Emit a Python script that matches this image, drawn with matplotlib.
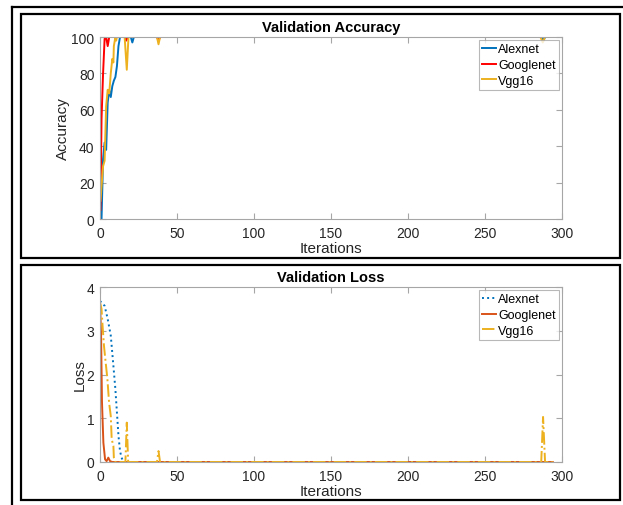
import numpy as np
import matplotlib
matplotlib.use("Agg")
import matplotlib.pyplot as plt
from matplotlib.patches import Rectangle
from matplotlib.lines import Line2D

plt.rcParams['font.family'] = ['Liberation Sans', 'DejaVu Sans']

# accuracy data (iteration, percent)
acc_alex_it = [1, 2, 3, 4, 5, 6, 7, 8, 9, 10, 11, 12, 13, 14, 15, 19, 20, 21, 22, 286, 287, 288, 289, 294]
acc_alex = [0, 33, 42, 38, 64, 71, 67, 73, 76, 78, 84, 95, 100, 100, 100, 100, 100, 97, 100, 100, 100, 98, 100, 100]
acc_goog_it = [0.3, 1, 2, 3, 4, 5, 6, 7, 16, 17, 18, 37, 38, 39, 294]
acc_goog = [5, 55, 80, 99, 100, 95, 100, 100, 100, 98, 100, 100, 98, 100, 100]
acc_vgg_it = [0.3, 2, 3, 4, 5, 6, 7, 8, 8.7, 9, 10, 10.5, 11, 16, 17.4, 18.5, 37, 38, 39, 286, 287.5, 289, 294]
acc_vgg = [10, 29, 32, 62, 71, 69, 80, 88, 86, 95, 100, 98, 100, 100, 82, 100, 100, 96, 100, 100, 97, 100, 100]

# loss data
loss_alex_it = [0, 3, 5, 7, 8.7, 10, 11, 12, 13, 14, 15, 16, 294]
loss_alex = [3.68, 3.57, 3.27, 2.89, 2.2, 1.66, 1.13, 0.6, 0.25, 0.1, 0.02, 0.0, 0.0]
loss_goog_it = [0, 0.7, 1.3, 2.2, 3.3, 4.3, 5.4, 6.5, 8, 294]
loss_goog = [3.68, 2.9, 1.36, 0.44, 0.06, 0.02, 0.1, 0.02, 0.0, 0.0]
loss_vgg_it = [0, 1, 1.7, 2.6, 3.7, 4.8, 5.9, 7, 7.6, 8.7, 9, 10, 16.5, 17.4, 18.3, 37, 38, 39, 286.5, 287.7, 289, 294]
loss_vgg = [3.65, 3.5, 3.1, 2.65, 2.27, 1.9, 1.36, 1.05, 0.52, 0.37, 0.1, 0.0, 0.0, 0.9, 0.0, 0.0, 0.25, 0.0, 0.0, 1.03, 0.0, 0.0]

names = ['Alexnet', 'Googlenet', 'Vgg16']
blue = '#0072BD'
orange = '#D95319'
yellow = '#EDB120'

fig = plt.figure(figsize=(6.23, 5.06), dpi=100)

# outer frame and panel boxes
fig.add_artist(Line2D([0.0193, 0.0193], [0, 0.9842], color='black', lw=1.6, transform=fig.transFigure))
fig.add_artist(Line2D([0.0193, 1.0], [0.9842, 0.9842], color='black', lw=1.6, transform=fig.transFigure))
fig.add_artist(Rectangle((0.0337, 0.4881), 0.9615, 0.4822, fill=False, ec='black', lw=1.6, transform=fig.transFigure))
fig.add_artist(Rectangle((0.0337, 0.0099), 0.9615, 0.4644, fill=False, ec='black', lw=1.6, transform=fig.transFigure))


def style(ax):
    ax.set_xlim(0, 300)
    ax.set_xticks(np.arange(0, 301, 50))
    for s in ax.spines.values():
        s.set_color('#a6a6a6')
        s.set_linewidth(0.8)
    ax.tick_params(direction='in', top=True, right=True, length=4, width=0.8,
                   color='#a6a6a6', labelcolor='#262626', labelsize=10)
    ax.tick_params(axis='x', pad=5)
    ax.tick_params(axis='y', pad=4)
    ax.set_xlabel('Iterations', fontsize=11, color='#262626', labelpad=1)


def legend(ax):
    leg = ax.legend(loc='upper right', fontsize=9, handlelength=1.15, handletextpad=0.15,
                    borderpad=0.25, labelspacing=0.3, fancybox=False, edgecolor='#a6a6a6',
                    borderaxespad=0.25)
    leg.get_frame().set_linewidth(0.8)


ax1 = fig.add_axes([0.1605, 0.5652, 0.7416, 0.3597])
ax1.plot(acc_alex_it, acc_alex, color=blue, lw=1.4, label=names[0])
ax1.plot(acc_goog_it, acc_goog, color='#FF0000', lw=1.4, label=names[1])
ax1.plot(acc_vgg_it, acc_vgg, color=yellow, lw=1.4, label=names[2])
ax1.set_ylim(0, 100)
ax1.set_yticks(np.arange(0, 101, 20))
style(ax1)
ax1.set_ylabel('Accuracy', fontsize=11, color='#262626', labelpad=1)
ax1.set_title('Validation Accuracy', fontsize=10.5, fontweight='bold', pad=4)
legend(ax1)

ax2 = fig.add_axes([0.1605, 0.0850, 0.7416, 0.3458])
ax2.plot(loss_alex_it, loss_alex, color=blue, lw=1.4, ls=':', label=names[0])
ax2.plot(loss_goog_it, loss_goog, color=orange, lw=1.4, label=names[1])
ax2.plot(loss_vgg_it, loss_vgg, color=yellow, lw=1.4, ls='-.', label=names[2])
ax2.set_ylim(0, 4)
ax2.set_yticks(np.arange(0, 5, 1))
style(ax2)
ax2.set_ylabel('Loss', fontsize=11, color='#262626', labelpad=0)
ax2.set_title('Validation Loss', fontsize=10.5, fontweight='bold', pad=4)
legend(ax2)

fig.savefig('out.png', dpi=100)
